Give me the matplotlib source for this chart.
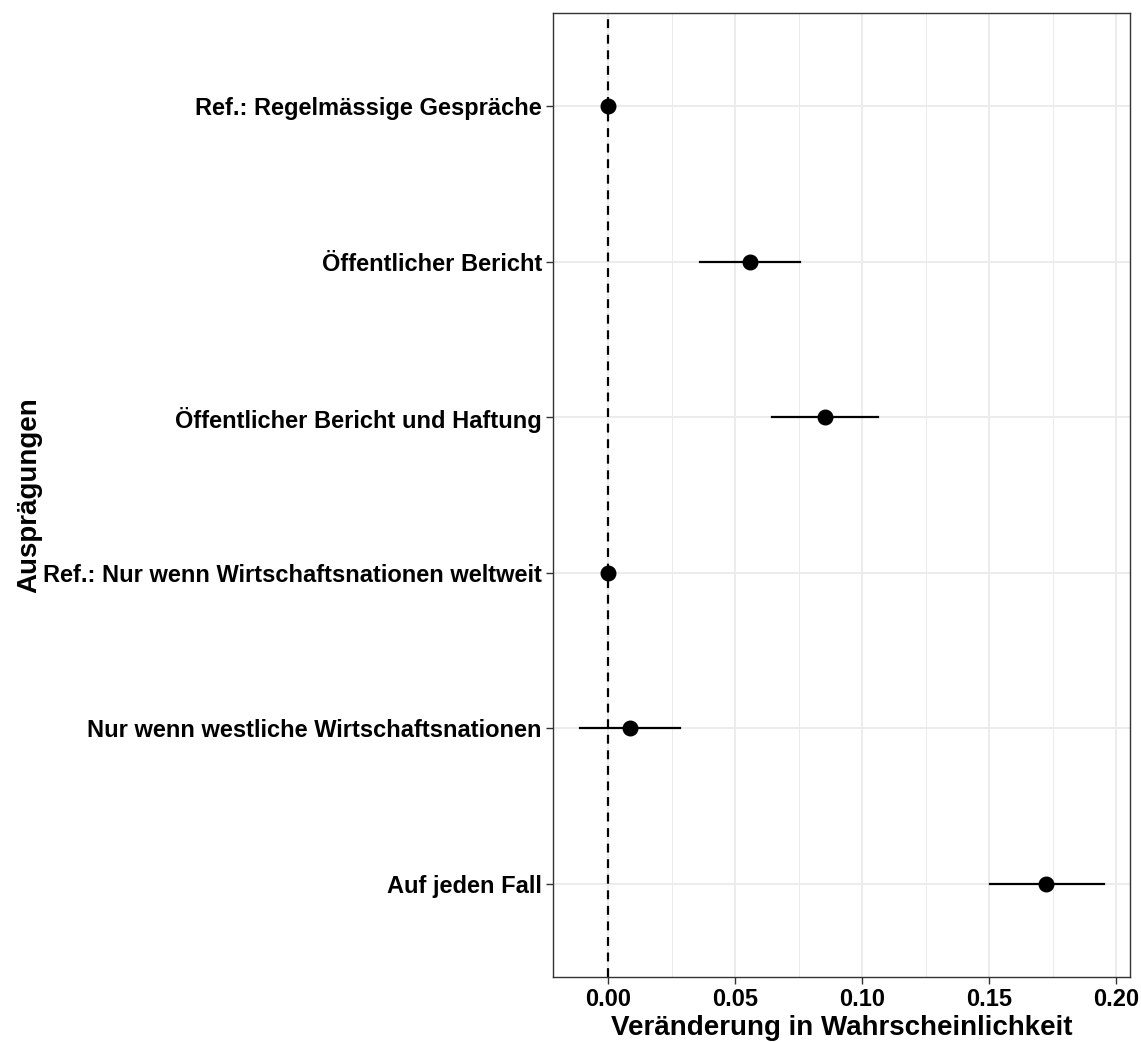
import matplotlib
matplotlib.use("Agg")
import matplotlib.pyplot as plt
from matplotlib.ticker import MultipleLocator

plt.rcParams['font.family'] = ['Liberation Sans', 'DejaVu Sans']

categories = [
    "Ref.: Regelmässige Gespräche",
    "Öffentlicher Bericht",
    "Öffentlicher Bericht und Haftung",
    "Ref.: Nur wenn Wirtschaftsnationen weltweit",
    "Nur wenn westliche Wirtschaftsnationen",
    "Auf jeden Fall",
]
estimates = [0.0, 0.0559, 0.0854, 0.0, 0.0087, 0.1725]
ci_low = [0.0, 0.0362, 0.0646, 0.0, -0.0110, 0.1504]
ci_high = [0.0, 0.0756, 0.1063, 0.0, 0.0283, 0.1953]
xticks = [0.00, 0.05, 0.10, 0.15, 0.20]
xticklabels = ["0.00", "0.05", "0.10", "0.15", "0.20"]

fig = plt.figure(figsize=(11.41, 10.42), dpi=100)
ax = fig.add_axes([553/1141, 1 - 977/1042, (1130-553)/1141, (977-13)/1042])

n = len(categories)
ypos = list(range(n, 0, -1))

ax.axvline(0, color='black', linestyle=(0, (4, 3)), linewidth=1.6, zorder=2)
for y, e, lo, hi in zip(ypos, estimates, ci_low, ci_high):
    ax.plot([lo, hi], [y, y], color='black', linewidth=1.6, zorder=3)
ax.scatter(estimates, ypos, s=110, color='black', zorder=4)

ax.set_xlim(-0.0217, 0.2055)
ax.set_ylim(0.4, n + 0.6)
ax.set_xticks(xticks)
ax.set_xticklabels(xticklabels)
ax.xaxis.set_minor_locator(MultipleLocator(0.025))
ax.set_yticks(ypos)
ax.set_yticklabels(categories)

ax.grid(which='major', color='#ebebeb', linewidth=1.3, zorder=0)
ax.grid(which='minor', axis='x', color='#ebebeb', linewidth=0.7, zorder=0)
ax.set_axisbelow(True)
for s in ax.spines.values():
    s.set_color('#333333')
    s.set_linewidth(1.0)

ax.tick_params(which='major', length=5, width=1.0, color='#333333',
               labelsize=17, labelcolor='black', pad=3)
ax.tick_params(which='minor', length=0)
for lab in ax.get_xticklabels() + ax.get_yticklabels():
    lab.set_fontweight('bold')

ax.set_xlabel("Veränderung in Wahrscheinlichkeit", fontsize=20, fontweight='bold', labelpad=3)
ax.set_ylabel("Ausprägungen", fontsize=20, fontweight='bold')
ax.yaxis.set_label_coords(-(553 - 42) / 577, 0.5)

fig.savefig("out.png", dpi=100)
